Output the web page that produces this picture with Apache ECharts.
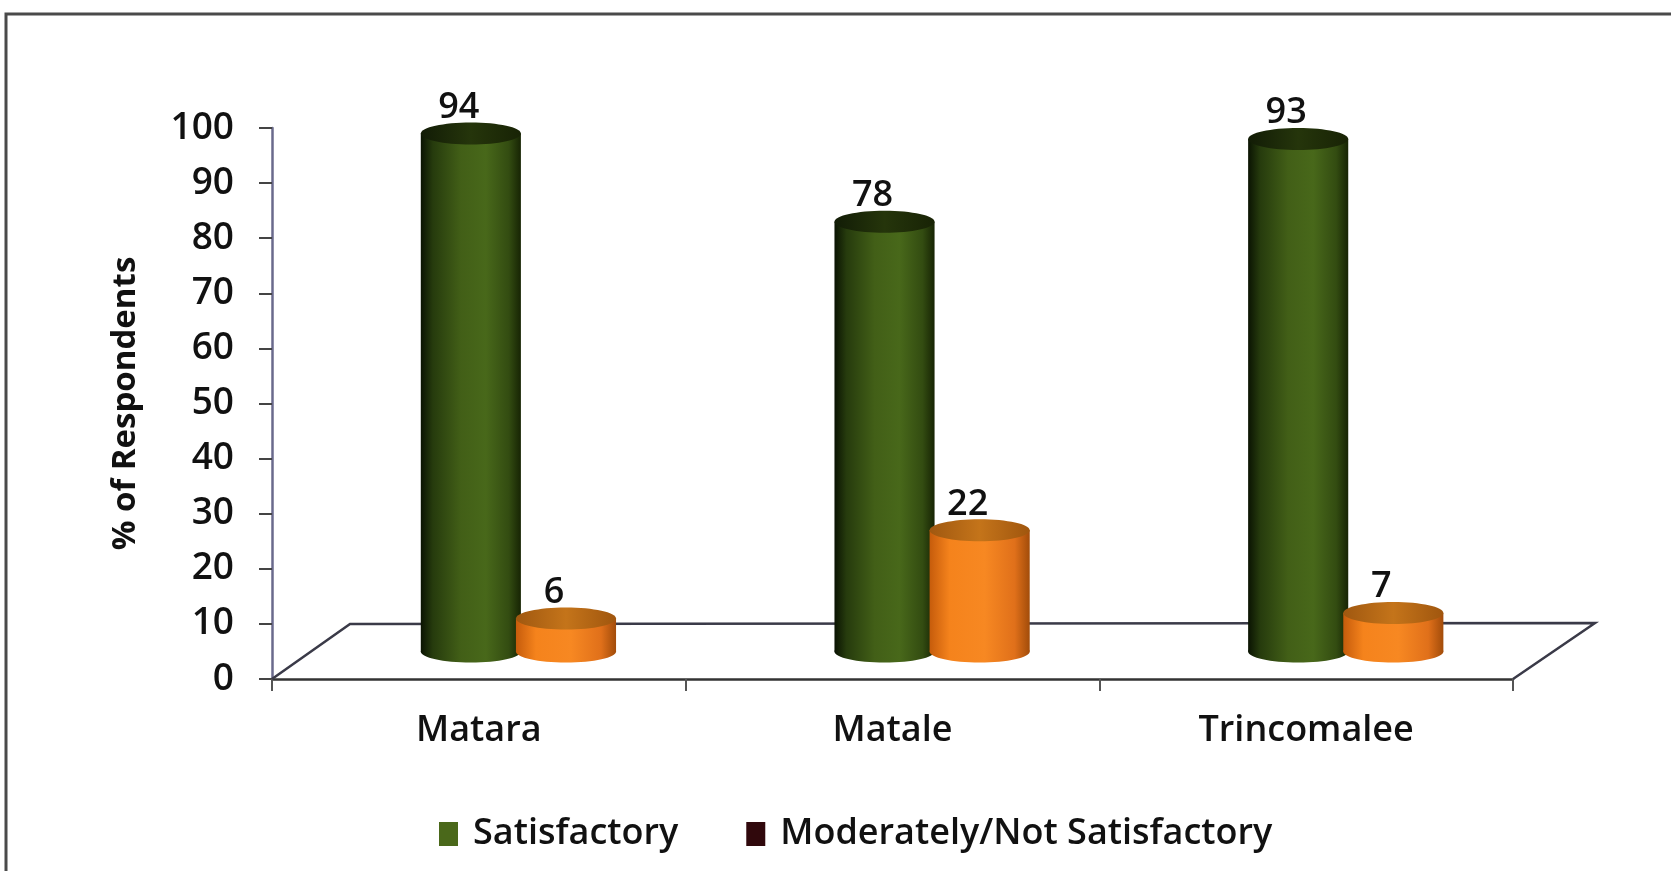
<!DOCTYPE html>
<html>
<head>
<meta charset="utf-8">
<script src="https://cdn.jsdelivr.net/npm/echarts@6/dist/echarts.min.js"></script>
<style>
html,body{margin:0;padding:0;background:#fff;}
#chart{width:1671px;height:871px;}
</style>
</head>
<body>
<div id="chart"></div>
<script>
// ---- data ----
const categories = ['Matara', 'Matale', 'Trincomalee'];
const satisfactory = [94, 78, 93];
const notSatisfactory = [6, 22, 7];
const seriesNames = ['Satisfactory', 'Moderately/Not Satisfactory'];
const yMin = 0, yMax = 100, yStep = 10;

// ---- styling constants ----
const FONT = "'Open Sans', 'Noto Sans', sans-serif";
const DEPTH_X = 80, DEPTH_Y = -55;   // full floor depth (px)
const BAR_W = 0.242;                 // fraction of category band
const OFFSETS = [-0.116, 0.114];     // bar centre offset, fraction of band

const chart = echarts.init(document.getElementById('chart'));

const greenBody = {type:'linear',x:0,y:0,x2:1,y2:0,colorStops:[
  {offset:0,color:'#0a1302'},{offset:0.12,color:'#263b0d'},{offset:0.4,color:'#425f17'},
  {offset:0.65,color:'#48681a'},{offset:0.88,color:'#334c11'},{offset:1,color:'#172404'}]};
const greenTop = {type:'linear',x:0,y:0,x2:1,y2:0,colorStops:[
  {offset:0,color:'#121c06'},{offset:0.5,color:'#25350b'},{offset:1,color:'#182305'}]};
const orangeBody = {type:'linear',x:0,y:0,x2:1,y2:0,colorStops:[
  {offset:0,color:'#c65c0c'},{offset:0.2,color:'#f5831c'},{offset:0.55,color:'#f78822'},
  {offset:0.85,color:'#e0701a'},{offset:1,color:'#a24c0a'}]};
const orangeTop = {type:'linear',x:0,y:0,x2:1,y2:0,colorStops:[
  {offset:0,color:'#a05810'},{offset:0.5,color:'#c4741a'},{offset:1,color:'#a0560e'}]};

function cylinder(idx, body, top) {
  return function (params, api) {
    const ci = api.value(0), v = api.value(1);
    const base = api.coord([ci, 0]);
    const tp = api.coord([ci, v]);
    const band = api.size([1, 0])[0];
    const rx = band * BAR_W / 2;
    const ry = rx * 0.22;
    const cx = base[0] + band * OFFSETS[idx] + DEPTH_X / 2;
    const by = base[1] + DEPTH_Y / 2;
    const ty = tp[1] + DEPTH_Y / 2;
    return {
      type: 'group',
      children: [
        {type:'ellipse', shape:{cx:cx, cy:by, rx:rx, ry:ry}, style:{fill: body}},
        {type:'rect', shape:{x:cx-rx, y:ty, width:2*rx, height:by-ty}, style:{fill: body}},
        {type:'ellipse', shape:{cx:cx, cy:ty, rx:rx, ry:ry}, style:{fill: top}},
        {type:'text', style:{text:String(v), x:cx - 12, y:ty - ry - 15, align:'center', verticalAlign:'middle',
          fill:'#111', font:'600 36px ' + FONT}}
      ]
    };
  };
}

function floorItem(params, api) {
  const band = api.size([1, 0])[0];
  const p0 = api.coord([0, 0]);
  const p2 = api.coord([categories.length - 1, 0]);
  const left = p0[0] - band / 2, right = p2[0] + band / 2, y0 = p0[1];
  return {
    type: 'polyline',
    shape: {points: [[left, y0], [left + DEPTH_X - 2, y0 + DEPTH_Y], [right + DEPTH_X + 2, y0 + DEPTH_Y - 1], [right, y0]]},
    style: {stroke: '#3a3a48', lineWidth: 2.5, fill: null}
  };
}

chart.setOption({
  animation: false,
  backgroundColor: '#fff',
  graphic: [
    {type:'polyline', shape:{points:[[6,871],[6,14],[1671,14]]}, style:{stroke:'#4a4a4a', lineWidth:3, fill:null}}
  ],
  grid: {left: 272, right: 158, top: 128, bottom: 192},
  legend: {
    data: seriesNames,
    left: 434, top: 811,
    icon: 'rect', itemWidth: 19, itemHeight: 24, itemGap: 68,
    textStyle: {fontFamily: FONT, fontSize: 36, fontWeight: 600, color: '#111', padding: [0, 0, 0, 10]}
  },
  xAxis: {
    type: 'category',
    data: categories,
    axisLine: {lineStyle: {color: '#333', width: 2.5}},
    axisTick: {show: true, length: 12, lineStyle: {color: '#555', width: 2}},
    axisLabel: {fontFamily: FONT, fontSize: 36, fontWeight: 600, color: '#111', margin: 34}
  },
  yAxis: {
    type: 'value', min: yMin, max: yMax, interval: yStep,
    name: '% of Respondents', nameLocation: 'middle', nameRotate: 90, nameGap: 130,
    nameTextStyle: {fontFamily: FONT, fontSize: 33, fontWeight: 'bold', color: '#111'},
    axisLine: {show: true, lineStyle: {color: '#6a6a8c', width: 2.5}},
    axisTick: {show: true, length: 13, lineStyle: {color: '#444', width: 2}},
    axisLabel: {fontFamily: FONT, fontSize: 37, fontWeight: 600, color: '#111', margin: 38},
    splitLine: {show: false}
  },
  series: [
    {type:'custom', name:'floor', z:1, renderItem: floorItem, data: [[0, 0]], silent: true},
    {type:'custom', name: seriesNames[0], z:2, itemStyle:{color:'#4a681a'},
      renderItem: cylinder(0, greenBody, greenTop),
      data: categories.map((c, i) => [i, satisfactory[i]])},
    {type:'custom', name: seriesNames[1], z:3, itemStyle:{color:'#30080c'},
      renderItem: cylinder(1, orangeBody, orangeTop),
      data: categories.map((c, i) => [i, notSatisfactory[i]])}
  ]
});
</script>
</body>
</html>
